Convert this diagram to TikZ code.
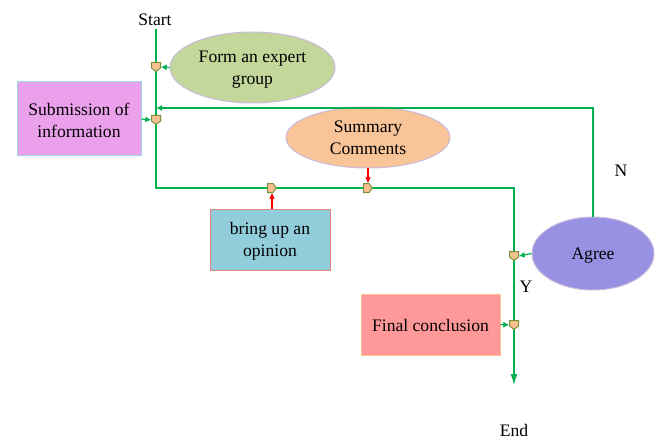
\documentclass[tikz,border=0pt]{standalone}
\usepackage{fontspec}
\setmainfont{Liberation Serif}
\usetikzlibrary{arrows.meta,shapes.geometric}
\definecolor{lgreen}{RGB}{0,176,80}
\definecolor{elb}{RGB}{200,186,220}
\definecolor{formfill}{RGB}{196,215,155}
\definecolor{subfill}{RGB}{234,160,234}
\definecolor{subdraw}{RGB}{158,216,232}
\definecolor{sumfill}{RGB}{248,196,152}
\definecolor{bringfill}{RGB}{146,205,220}
\definecolor{bringdraw}{RGB}{224,128,128}
\definecolor{agreefill}{RGB}{152,144,226}
\definecolor{finalfill}{RGB}{255,153,153}
\definecolor{finaldraw}{RGB}{250,192,144}
\definecolor{mkfill}{RGB}{250,192,144}
\definecolor{mkdraw}{RGB}{118,146,60}
\begin{document}
\begin{tikzpicture}[x=1pt,y=-1pt,
  every node/.style={font=\fontsize{17.6}{21.5}\selectfont, text=black},
  gline/.style={draw=lgreen, line width=1.2pt},
  garr/.style={gline, -{Latex[length=6pt,width=6pt]}},
  rarr/.style={draw=red, line width=1.2pt, -{Latex[length=6pt,width=6pt]}},
  ell/.style={ellipse, draw=elb, line width=1pt, inner sep=0pt, align=center},
  bx/.style={rectangle, line width=1pt, inner sep=0pt, align=center},
  lbl/.style={yshift=-2pt},
  mk/.style={inner sep=0pt, minimum size=9pt},
  mkshape/.style={fill=mkfill, draw=mkdraw, line width=1pt},
  mkdown/.pic={\path[mkshape] (-4.5,-4.5) -- (4.5,-4.5) -- (4.5,1) -- (0,4.5) -- (-4.5,1) -- cycle;},
  mkright/.pic={\path[mkshape] (-4.5,-4.5) -- (1,-4.5) -- (4.5,0) -- (1,4.5) -- (-4.5,4.5) -- cycle;}
]
\useasboundingbox (0,0) rectangle (657,436);

% shapes
\node[ell, fill=formfill, minimum width=165pt, minimum height=71pt] (form) at (252.5,67.5) {};
\node[bx, fill=subfill, draw=subdraw, minimum width=124pt, minimum height=74pt] (sub) at (79,119) {};
\node[ell, fill=sumfill, minimum width=164pt, minimum height=61pt] (sum) at (368,137.5) {};
\node[bx, fill=bringfill, draw=bringdraw, minimum width=120pt, minimum height=61pt] (bring) at (270,239.5) {};
\node[ell, fill=agreefill, minimum width=122pt, minimum height=73pt] (agree) at (593,253.5) {};
\node[bx, fill=finalfill, draw=finaldraw, minimum width=139pt, minimum height=61pt] (final) at (430.5,324.5) {};

% texts inside shapes
\node[align=center, inner sep=0pt] (formt) at ([yshift=-2pt]form.center) {Form an expert\\group};
\node[align=center, inner sep=0pt] (subt) at ([yshift=-1.5pt]sub.center) {Submission of\\information};
\node[align=center, inner sep=0pt] (sumt) at ([yshift=-0.5pt]sum.center) {Summary\\Comments};
\node[align=center, inner sep=0pt] (bringt) at ([yshift=-2pt]bring.center) {bring up an\\opinion};
\node[inner sep=0pt] (agreet) at ([yshift=-2pt]agree.center) {Agree};
\node[inner sep=0pt] (finalt) at ([yshift=-1pt]final.center) {Final conclusion};

% labels
\node (start) at (155,20) {Start};
\node (endn) at (514,430) {End};
\node (n) at (621,171) {N};
\node (y) at (526,287) {Y};

% coordinates
\coordinate (c1) at (156,188);
\coordinate (c2) at (514,188);
\coordinate (tip) at (514,385);
\coordinate (fb) at (156,108);

% marker anchors
\node[mk] (m1) at (156,67) {};
\node[mk] (m2) at (156,120) {};
\node[mk] (m3) at (272,188) {};
\node[mk] (m4) at (368,188) {};
\node[mk] (m5) at (514,256) {};
\node[mk] (m6) at (514,325) {};

% main line
\draw[gline, -{Latex[length=11pt,width=7pt]}] (start.south -| c1) -- (c1) -- (c2) -- (tip);
% feedback
\draw[garr] (agree.north) |- (fb);

% arrows into markers
\draw[garr] (form.west) -- (m1.east);
\draw[garr] (sub.east) -- (m2.west);
\draw[garr] (agree.west) -- (m5.east);
\draw[garr] (final.east) -- (m6.west);
\draw[rarr] (sum.south) -- (m4.north);
\draw[rarr] (bring.north -| m3) -- (m3.south);

% markers
\pic at (m1) {mkdown};
\pic at (m2) {mkdown};
\pic at (m3) {mkright};
\pic at (m4) {mkright};
\pic at (m5) {mkdown};
\pic at (m6) {mkdown};
\end{tikzpicture}
\end{document}
